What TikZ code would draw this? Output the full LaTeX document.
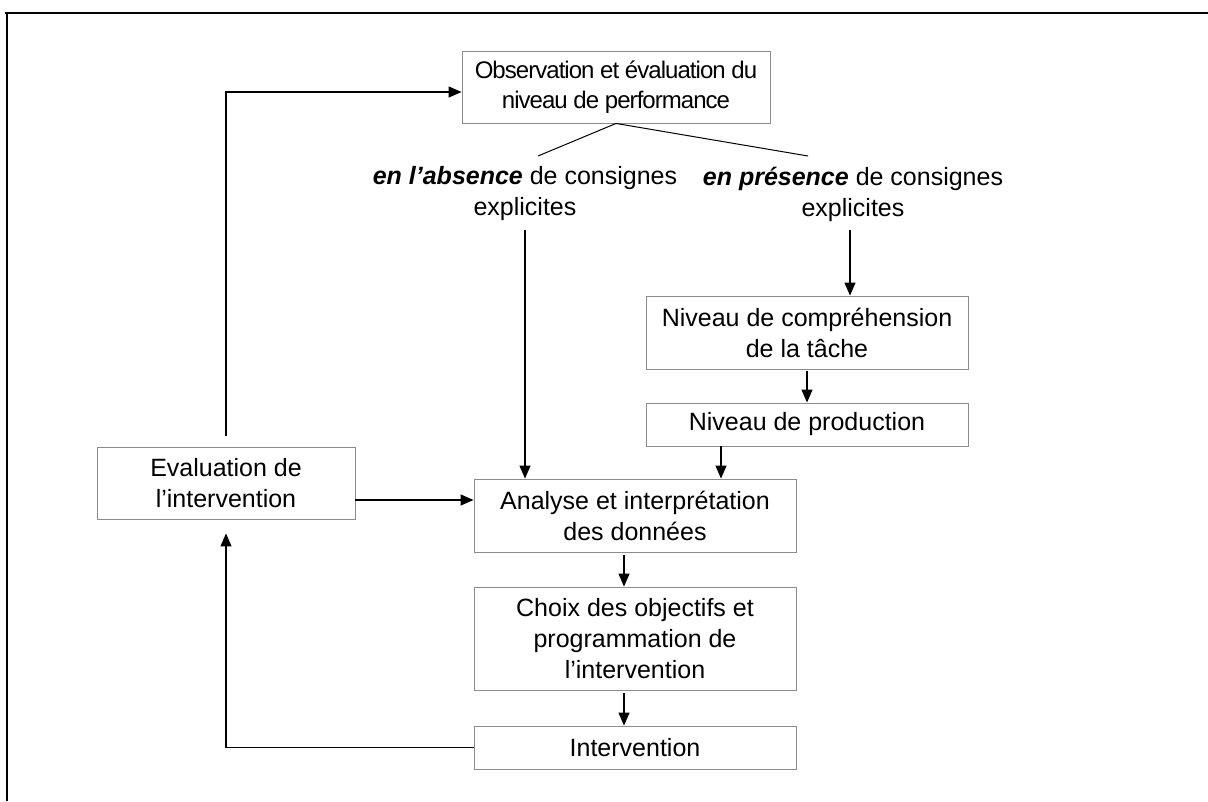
\documentclass[tikz,border=0pt]{standalone}
\usepackage{fontspec}
\setmainfont{Liberation Sans}
\newfontfamily\tightsans{Liberation Sans}[LetterSpace=-4]
\usetikzlibrary{arrows.meta,calc}

\tikzset{
  box/.style={draw=black!45, line width=0.9pt, fill=white, align=center,
    inner sep=0pt, font=\fontsize{25}{31}\selectfont},
  headbox/.style={box, font=\fontsize{24}{30}\tightsans},
  label/.style={align=center, inner sep=0pt, font=\fontsize{25}{31}\selectfont},
  arr/.style={draw=black, line width=1.2pt, -{Triangle[length=13pt,width=11pt]}},
  branch/.style={draw=black, line width=1pt},
  frameline/.style={draw=black, line width=2.8pt}
}

\begin{document}
\begin{tikzpicture}[x=1pt, y=-1pt]
  % page area
  \useasboundingbox (0,0) rectangle (1208,801);
  \fill[white] (0,0) rectangle (1208,801);

  % outer frame (top and left edges)
  \draw[frameline] (5,13) -- (1208,13);
  \draw[frameline] (7,13) -- (7,801);

  % boxes
  \node[headbox, minimum width=308pt, minimum height=72pt] (obs) at (616,87)
    {Observation et évaluation du\\niveau de performance};
  \node[box, minimum width=322pt, minimum height=73pt] (comp) at (807,332.5)
    {Niveau de compréhension\\de la tâche};
  \node[box, minimum width=322pt, minimum height=43pt] (prod) at (807,424.5)
    {Niveau de production};
  \node[box, minimum width=322pt, minimum height=73pt] (analyse) at (635,515.5)
    {Analyse et interprétation\\des données};
  \node[box, minimum width=322pt, minimum height=103pt] (choix) at (635,638.5)
    {Choix des objectifs et\\programmation de\\l’intervention};
  \node[box, minimum width=322pt, minimum height=43pt] (interv) at (635,747.5)
    {Intervention};
  \node[box, minimum width=258pt, minimum height=72pt] (eval) at (226,483)
    {Evaluation de\\l’intervention};

  % branch labels
  \node[label] (abs) at (525,194)
    {\textbf{\textit{en l’absence}} de consignes\\explicites};
  \node[label] (pres) at (853,194)
    {\textbf{\textit{en présence}} de consignes\\explicites};

  % branching lines below the first box
  \coordinate (bl) at (538,156);
  \coordinate (br) at (808,156);
  \draw[branch] (obs.south) -- (bl);
  \draw[branch] (obs.south) -- (br);

  % vertical flows
  \coordinate (absstart) at (525,230);
  \coordinate (presstart) at (850,230);
  \draw[arr] (absstart) -- (absstart |- analyse.north);
  \draw[arr] (presstart) -- (presstart |- comp.north);
  \draw[arr, shorten <=2pt] (comp.south) -- (prod.north);
  \draw[arr] ([xshift=-86pt]prod.south) -- ([xshift=-86pt]prod.south |- analyse.north);
  \draw[arr, shorten <=3pt] ([xshift=-11pt]analyse.south) -- ([xshift=-11pt]analyse.south |- choix.north);
  \draw[arr, shorten <=3pt] ([xshift=-11pt]choix.south) -- ([xshift=-11pt]choix.south |- interv.north);

  % evaluation loop
  \draw[arr] ([yshift=-17pt]eval.east) -- ([yshift=-17pt]eval.east -| analyse.west);
  \draw[arr, shorten >=14pt] (interv.west) -| (eval.south);
  \draw[arr, shorten <=11pt] (eval.north) |- ([yshift=-5pt]obs.west);
\end{tikzpicture}
\end{document}
